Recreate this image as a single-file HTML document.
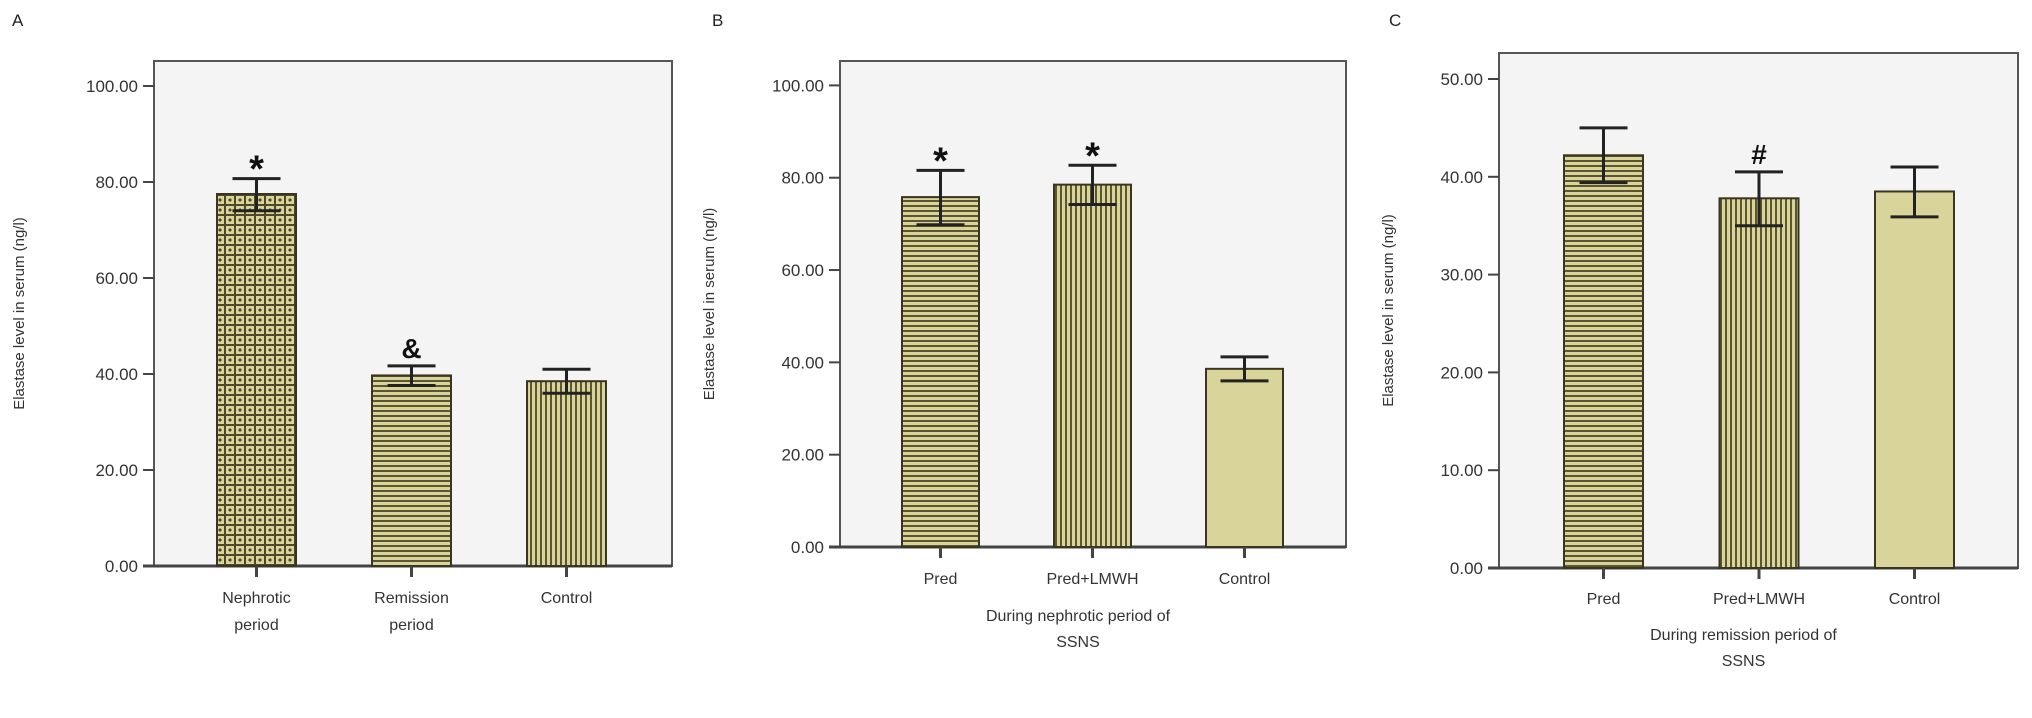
<!DOCTYPE html>
<html><head><meta charset="utf-8"><style>
html,body{margin:0;padding:0;background:#fff;}
svg{display:block;font-family:"Liberation Sans",Arial,sans-serif;}
</style></head><body>
<svg id="chart" width="2032" height="718" viewBox="0 0 2032 718" xmlns="http://www.w3.org/2000/svg">
<defs>
<pattern id="pHoriz" width="6" height="5" patternUnits="userSpaceOnUse"><rect width="6" height="5" fill="#d9d49a"/><rect y="0" width="6" height="2" fill="#5c5532"/></pattern>
<pattern id="pVert" width="5" height="6" patternUnits="userSpaceOnUse"><rect width="5" height="6" fill="#d9d49a"/><rect x="0" width="2" height="6" fill="#5c5532"/></pattern>
<pattern id="pCross" width="10" height="10" patternUnits="userSpaceOnUse"><rect width="10" height="10" fill="#d9d49a"/><path d="M5 0V10M0 5H10" stroke="#4e4828" stroke-width="2"/><path d="M0 0L2 0 0 2ZM10 0L8 0 10 2ZM0 10L2 10 0 8ZM10 10L8 10 10 8Z" fill="#4e4828"/></pattern>
</defs>
</svg>
<script>
// Panel A
const catsA = [["Nephrotic","period"],["Remission","period"],["Control"]];
const valsA = [77.5, 39.7, 38.5];
const loA = [74.0, 37.6, 36.0];
const hiA = [80.7, 41.7, 41.0];
const marksA = ["*","&",""];
const ticksA = ["0.00","20.00","40.00","60.00","80.00","100.00"];
// Panel B
const catsB = [["Pred"],["Pred+LMWH"],["Control"]];
const valsB = [75.8, 78.5, 38.6];
const loB = [69.8, 74.2, 36.0];
const hiB = [81.6, 82.7, 41.2];
const marksB = ["*","*",""];
const ticksB = ["0.00","20.00","40.00","60.00","80.00","100.00"];
// Panel C
const catsC = [["Pred"],["Pred+LMWH"],["Control"]];
const valsC = [42.2, 37.8, 38.5];
const loC = [39.4, 35.0, 35.9];
const hiC = [45.0, 40.5, 41.0];
const marksC = ["","#",""];
const ticksC = ["0.00","10.00","20.00","30.00","40.00","50.00"];

const NS="http://www.w3.org/2000/svg";
const svg=document.getElementById('chart');
function mk(tag,attrs,parent){const e=document.createElementNS(NS,tag);for(const k in attrs)e.setAttribute(k,attrs[k]);(parent||svg).appendChild(e);return e;}

function panel(cfg){
  const g=mk('g',{});
  
  
  const L=cfg.left,R=cfg.right,T=cfg.top,B=cfg.bottom;
  const y=v=>cfg.y0-(v/cfg.max)*(cfg.y0-cfg.yMax);
  const pl=mk('text',{x:cfg.labelX,y:26,'font-size':17,fill:'#222'},g);pl.textContent=cfg.id;
  
  
  const bg=mk('rect',{x:L,y:T,width:R-L,height:B-T,fill:'#f4f4f4',stroke:'#555','stroke-width':2},g);
  
  
  cfg.ticks.forEach(t=>{
    const yy=y(parseFloat(t));
    mk('line',{x1:L-11,x2:L,y1:yy,y2:yy,stroke:'#444','stroke-width':2},g);
    const tx=mk('text',{x:L-16,y:yy+6,'font-size':17,'text-anchor':'end',fill:'#333'},g);tx.textContent=t;
    
    
  });
  mk('line',{x1:L-11,x2:R,y1:B,y2:B,stroke:'#444','stroke-width':3},g);
  const yl=mk('text',{x:0,y:0,'font-size':15,'text-anchor':'middle',fill:'#333',transform:`translate(${cfg.ylabX},${(T+B)/2}) rotate(-90)`},g);
  yl.textContent='Elastase level in serum (ng/l)';
  
  
  cfg.cats.forEach((c,i)=>{
    const cx=cfg.x0+i*cfg.step, w=cfg.bw;
    const top=y(cfg.vals[i]);
    const bar=mk('rect',{x:cx-w/2,y:top,width:w,height:B-top,fill:`url(#${cfg.pats[i]})`,stroke:'#3a3520','stroke-width':2},g);
    
    
    const ylo=y(cfg.lo[i]),yhi=y(cfg.hi[i]);
    const eb=mk('path',{d:`M${cx} ${ylo}V${yhi}M${cx-24} ${yhi}H${cx+24}M${cx-24} ${ylo}H${cx+24}`,stroke:'#222','stroke-width':3,fill:'none'},g);
    
    
    if(cfg.marks[i]){
      const star=cfg.marks[i]=='*';
      const m=mk('text',{x:cx,y:star?yhi+3:yhi-8,'font-size':star?38:28,'font-weight':'bold','text-anchor':'middle',fill:'#111'},g);
      m.textContent=cfg.marks[i];
      
      
    }
    mk('line',{x1:cx,x2:cx,y1:B,y2:B+11,stroke:'#444','stroke-width':3},g);
    c.forEach((ln,j)=>{
      const t=mk('text',{x:cx,y:cfg.xlabY+j*27,'font-size':16,'text-anchor':'middle',fill:'#333'},g);t.textContent=ln;
      
      
    });
  });
  cfg.xtitle.forEach((ln,j)=>{
    const t=mk('text',{x:(L+R)/2-15,y:cfg.xtY+j*26,'font-size':16,'text-anchor':'middle',fill:'#333'},g);t.textContent=ln;
    
    
  });
}
panel({id:'A',labelX:12,left:154,right:672,top:61,bottom:566,y0:566,yMax:86,max:100,ticks:ticksA,ylabX:24,
  cats:catsA,vals:valsA,lo:loA,hi:hiA,marks:marksA,pats:['pCross','pHoriz','pVert'],x0:256.5,step:155,bw:79,xlabY:603,xtitle:[],xtY:0});
panel({id:'B',labelX:712,left:840,right:1346,top:61,bottom:547,y0:547,yMax:85.4,max:100,ticks:ticksB,ylabX:714,
  cats:catsB,vals:valsB,lo:loB,hi:hiB,marks:marksB,pats:['pHoriz','pVert','none'],x0:940.5,step:152,bw:77,xlabY:584,xtitle:['During nephrotic period of','SSNS'],xtY:621});
panel({id:'C',labelX:1389,left:1499,right:2018,top:53,bottom:568,y0:568,yMax:79,max:50,ticks:ticksC,ylabX:1393,
  cats:catsC,vals:valsC,lo:loC,hi:hiC,marks:marksC,pats:['pHoriz','pVert','none'],x0:1603.5,step:155.5,bw:79,xlabY:604,xtitle:['During remission period of','SSNS'],xtY:640});
document.querySelectorAll('rect[fill="url(#none)"]').forEach(r=>r.setAttribute('fill','#d9d49a'));
</script>
</body></html>
